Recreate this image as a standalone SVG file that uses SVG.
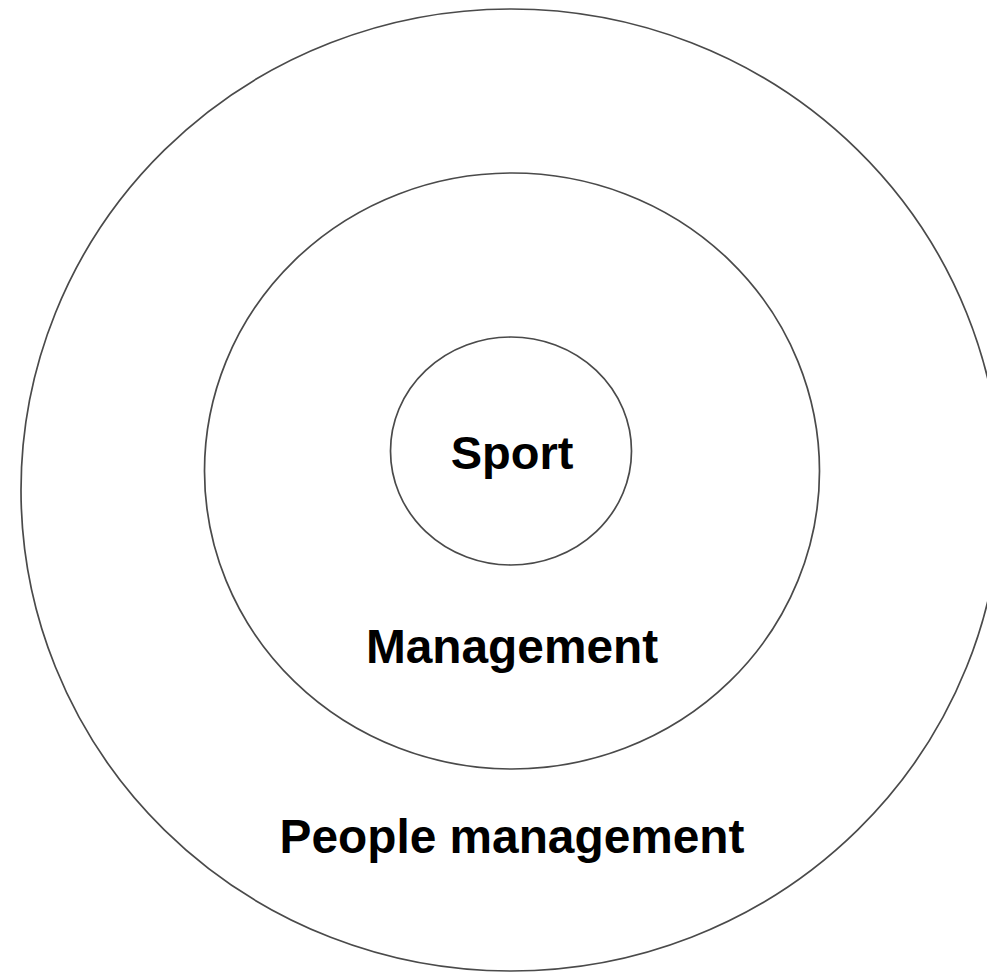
<svg xmlns="http://www.w3.org/2000/svg" width="987" height="973" viewBox="0 0 987 973">
<style>
.ring{fill:none;stroke:#4a4a4a;stroke-width:1.7}
.lbl{font-family:"Liberation Sans",Arial,sans-serif;font-weight:bold;font-size:47px;fill:#000;text-anchor:middle}
.big{font-size:47.8px}
</style>
<rect width="987" height="973" fill="#fff"/>
<g id="people-management">
<ellipse class="ring" cx="511" cy="490" rx="490" ry="481"/>
<text class="lbl big" x="512" y="853">People management</text>
</g>
<g id="management">
<ellipse class="ring" cx="512" cy="471" rx="307.5" ry="298"/>
<text class="lbl big" x="512" y="663">Management</text>
</g>
<g id="sport">
<ellipse class="ring" cx="511" cy="451" rx="120.5" ry="114"/>
<text class="lbl" x="512" y="469">Sport</text>
</g>
<g id="connectors"/>
</svg>
